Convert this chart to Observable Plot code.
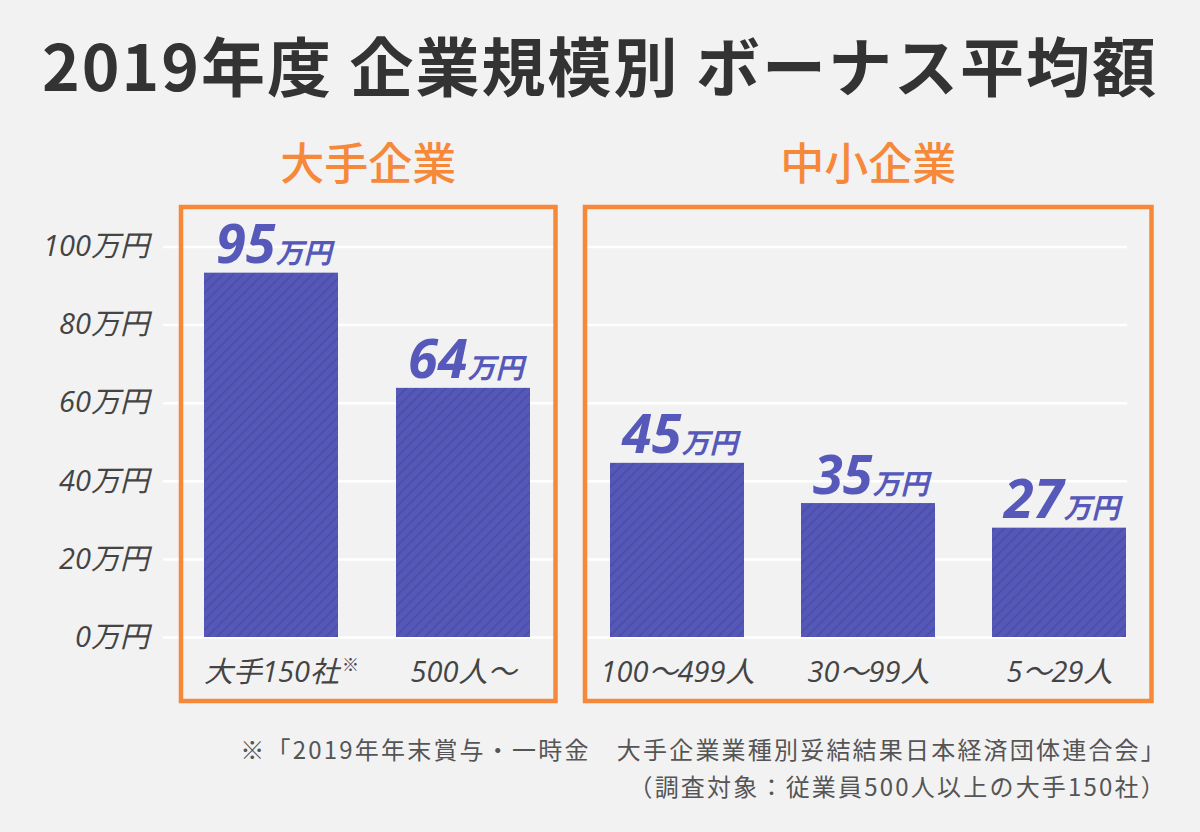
<!DOCTYPE html>
<html lang="ja">
<head>
<meta charset="utf-8">
<script src="https://cdn.jsdelivr.net/npm/d3@7"></script>
<script src="https://cdn.jsdelivr.net/npm/@observablehq/plot@0.6"></script>
<style>
  html, body { margin: 0; padding: 0; background: #f2f2f2; }
  #wrap { position: relative; width: 1200px; height: 832px; background: #f2f2f2; overflow: hidden; }
  #title { position: absolute; left: 0; top: 18px; width: 1200px; text-align: center;
    font-family: "Noto Sans CJK JP", sans-serif; font-weight: 700; font-size: 64px; line-height: 90px;
    color: #333; letter-spacing: 2px; white-space: pre; }
  #chartL { position: absolute; left: 0; top: 110px; }
  #chartR { position: absolute; left: 570px; top: 110px; }
  #note { position: absolute; right: 33px; top: 730px; text-align: right;
    font-family: "Noto Sans CJK JP", sans-serif; font-size: 24px; line-height: 37px; color: #555;
    letter-spacing: 2.2px; white-space: pre; }
  svg text { font-family: "Open Sans", "Noto Sans CJK JP", sans-serif; }
  [aria-label="y-axis tick label"] text { font-style: italic; }
</style>
</head>
<body>
<div id="wrap">
  <div id="title">2019年度 企業規模別 ボーナス平均額</div>
  <div id="chartL"></div>
  <div id="chartR"></div>
  <div id="note">※「2019年年末賞与・一時金　大手企業業種別妥結結果日本経済団体連合会」
（調査対象：従業員500人以上の大手150社）</div>
</div>
<script>
// ---- data ----
const categories = ["大手150社", "500人～", "100～499人", "30～99人", "5～29人"];
const groups = ["大手企業", "大手企業", "中小企業", "中小企業", "中小企業"];
const values = [93.3, 63.8, 44.6, 34.3, 28.0];
const valueLabels = ["95", "64", "45", "35", "27"];
const unitLabel = "万円";
const yTicks = [0, 20, 40, 60, 80, 100];
const groupNames = ["大手企業", "中小企業"];
const footnoteMark = "※";

const rows = categories.map((c, i) => ({cat: c, group: groups[i], value: values[i], label: valueLabels[i]}));

const barBase = "#5558b6";
const barStripe = "#4a4caa";
const labelColor = "#5659b9";
const orange = "#f6883a";

function makeChart(groupName, opts) {
  const data = rows.filter(d => d.group === groupName);
  const id = "stripes-" + opts.key;
  const marks = [
    Plot.ruleY(yTicks, {stroke: "#ffffff", strokeWidth: 2.5, insetLeft: opts.gridInsetLeft, insetRight: opts.gridInsetRight}),
    Plot.barY(data, {x: "cat", y: "value", fill: `url(#${id})`}),
    Plot.frame({stroke: orange, strokeWidth: 4.5}),
    Plot.text([groupName], {frameAnchor: "top", dy: -41, lineAnchor: "middle", fontSize: 44, fontWeight: 500, fill: orange,
      fontFamily: "Noto Sans CJK JP", letterSpacing: "3px"}),
    Plot.text(data, {x: "cat", y: () => 0, text: "cat", dy: 35, lineAnchor: "middle", fontSize: 29, fontStyle: "italic", fill: "#444"}),
    Plot.text(data, {x: "cat", y: "value", text: "label", textAnchor: "end", lineAnchor: "bottom", dx: 4, dy: -10,
      fontSize: 54, fontWeight: 700, fontStyle: "italic", fill: labelColor}),
    Plot.text(data, {x: "cat", y: "value", text: () => unitLabel, textAnchor: "start", lineAnchor: "bottom", dx: 4, dy: -10,
      fontSize: 28, fontWeight: 700, fontStyle: "italic", fill: labelColor})
  ];
  if (opts.yAxis) {
    marks.push(Plot.axisY(yTicks, {label: null, tickSize: 0, tickPadding: 32, tickFormat: d => d + unitLabel, fontSize: 29, fontStyle: "italic"}));
    marks.push(Plot.text(data.slice(0, 1), {x: "cat", y: () => 0, text: () => footnoteMark, dx: 79, dy: 28, lineAnchor: "middle", fontSize: 17, fill: "#444"}));
  }
  const svg = Plot.plot({
    width: opts.width,
    height: 610,
    marginLeft: opts.marginLeft,
    marginRight: opts.marginRight,
    marginTop: 96.5,
    marginBottom: 19.5,
    style: {background: "transparent", color: "#444", overflow: "visible"},
    x: {domain: data.map(d => d.cat), axis: null, paddingInner: 0.3, paddingOuter: 0, insetLeft: opts.xInsetLeft, insetRight: opts.xInsetRight},
    y: {domain: [0, 100], axis: null, label: null, insetTop: 40, insetBottom: 63.5},
    marks
  });
  const ns = "http://www.w3.org/2000/svg";
  const defs = document.createElementNS(ns, "defs");
  defs.innerHTML = `<pattern id="${id}" patternUnits="userSpaceOnUse" width="7" height="7" patternTransform="rotate(45)">
      <rect width="7" height="7" fill="${barBase}"/>
      <line x1="1" y1="0" x2="1" y2="7" stroke="${barStripe}" stroke-width="1.6"/>
    </pattern>`;
  svg.insertBefore(defs, svg.firstChild);
  return svg;
}

document.getElementById("chartL").appendChild(makeChart(groupNames[0], {
  key: "L", width: 570, marginLeft: 180.5, marginRight: 15, xInsetLeft: 23, xInsetRight: 24,
  gridInsetLeft: -17.5, gridInsetRight: 0, yAxis: true
}));
document.getElementById("chartR").appendChild(makeChart(groupNames[1], {
  key: "R", width: 630, marginLeft: 14.5, marginRight: 49, xInsetLeft: 24.5, xInsetRight: 24,
  gridInsetLeft: 0, gridInsetRight: 24, yAxis: false
}));
</script>
</body>
</html>
